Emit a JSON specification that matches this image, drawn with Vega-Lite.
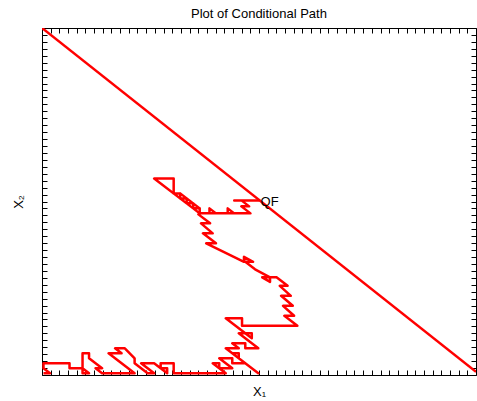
{
  "$schema": "https://vega.github.io/schema/vega-lite/v6.json",
  "width": 434,
  "height": 347,
  "autosize": {"type": "none"},
  "padding": {"left": 42, "top": 28, "right": 1, "bottom": 26},
  "background": "white",
  "config": {
    "view": {"stroke": null},
    "font": "Liberation Sans",
    "axis": {
      "domainColor": "black",
      "domainWidth": 1,
      "tickColor": "black",
      "tickWidth": 1,
      "tickSize": -5,
      "labels": false,
      "grid": false,
      "titleFont": "Liberation Sans",
      "titleFontSize": 13,
      "titleFontWeight": "normal",
      "titleColor": "black"
    }
  },
  "title": {
    "text": "Plot of Conditional Path",
    "fontSize": 13,
    "fontWeight": "normal",
    "font": "Liberation Sans",
    "color": "black",
    "offset": -3,
    "baseline": "alphabetic",
    "anchor": "middle"
  },
  "datasets": {
    "path": [
      {"k":1,"x":0.17,"y":0.25},{"k":2,"x":0.92,"y":0.25},{"k":3,"x":0.17,"y":0.97},{"k":4,"x":0.17,"y":1.69},
      {"k":5,"x":3.17,"y":1.69},{"k":6,"x":3.17,"y":0.97},{"k":7,"x":4.67,"y":0.97},{"k":8,"x":4.67,"y":0.25},
      {"k":9,"x":5.42,"y":0.25},{"k":10,"x":4.67,"y":0.97},{"k":11,"x":4.67,"y":3.13},{"k":12,"x":5.42,"y":3.13},
      {"k":13,"x":5.42,"y":2.41},{"k":14,"x":6.92,"y":0.97},{"k":15,"x":6.17,"y":0.97},{"k":16,"x":6.92,"y":0.25},
      {"k":17,"x":10.67,"y":0.25},{"k":18,"x":7.67,"y":3.13},{"k":19,"x":9.17,"y":3.13},{"k":20,"x":8.42,"y":3.85},
      {"k":21,"x":9.545,"y":3.85},{"k":22,"x":10.67,"y":2.41},{"k":23,"x":10.67,"y":1.69},{"k":24,"x":12.17,"y":0.25},
      {"k":25,"x":12.92,"y":0.25},{"k":26,"x":11.42,"y":1.69},{"k":27,"x":12.92,"y":1.69},{"k":28,"x":14.42,"y":0.25},
      {"k":29,"x":14.42,"y":0.97},{"k":30,"x":13.67,"y":0.97},{"k":31,"x":13.67,"y":1.69},{"k":32,"x":15.17,"y":1.69},
      {"k":33,"x":15.17,"y":0.25},{"k":34,"x":18.92,"y":0.25},{"k":35,"x":21.17,"y":0.25},{"k":36,"x":19.67,"y":1.69},
      {"k":37,"x":20.42,"y":1.69},{"k":38,"x":20.42,"y":0.97},{"k":39,"x":21.92,"y":0.97},{"k":40,"x":20.42,"y":2.41},
      {"k":41,"x":21.92,"y":2.41},{"k":42,"x":21.92,"y":1.69},{"k":43,"x":23.42,"y":1.69},{"k":44,"x":21.92,"y":3.13},
      {"k":45,"x":22.67,"y":3.13},{"k":46,"x":22.67,"y":2.41},{"k":47,"x":24.92,"y":0.25},{"k":48,"x":21.17,"y":3.85},
      {"k":49,"x":22.67,"y":3.85},{"k":50,"x":21.92,"y":4.57},{"k":51,"x":23.42,"y":4.57},{"k":52,"x":23.42,"y":3.85},
      {"k":53,"x":24.92,"y":3.85},{"k":54,"x":22.67,"y":6.01},{"k":55,"x":24.17,"y":6.01},{"k":56,"x":24.17,"y":5.29},
      {"k":57,"x":21.17,"y":8.17},{"k":58,"x":23.045,"y":8.17},{"k":59,"x":23.045,"y":7.09},{"k":60,"x":29.42,"y":7.09},
      {"k":61,"x":27.92,"y":8.53},{"k":62,"x":29.045,"y":8.53},{"k":63,"x":27.77,"y":9.97},{"k":64,"x":28.895,"y":9.97},
      {"k":65,"x":27.545,"y":11.41},{"k":66,"x":28.67,"y":11.41},{"k":67,"x":27.395,"y":12.85},{"k":68,"x":28.295,"y":12.85},
      {"k":69,"x":27.02,"y":14.074},{"k":70,"x":25.37,"y":14.074},{"k":71,"x":26.27,"y":13.426},{"k":72,"x":26.27,"y":14.074},
      {"k":73,"x":24.545,"y":15.226},{"k":74,"x":23.42,"y":16.306},{"k":75,"x":24.32,"y":16.306},{"k":76,"x":23.27,"y":17.026},
      {"k":77,"x":23.27,"y":16.306},{"k":78,"x":18.92,"y":18.97},{"k":79,"x":20.045,"y":18.97},{"k":80,"x":18.545,"y":20.41},
      {"k":81,"x":19.67,"y":20.41},{"k":82,"x":18.32,"y":21.85},{"k":83,"x":19.37,"y":21.85},{"k":84,"x":18.02,"y":23.146},
      {"k":85,"x":18.17,"y":23.29},{"k":86,"x":12.92,"y":28.33},{"k":87,"x":15.17,"y":28.33},{"k":88,"x":15.17,"y":26.17},
      {"k":89,"x":15.92,"y":26.17},{"k":90,"x":15.92,"y":25.45},{"k":91,"x":16.67,"y":25.45},{"k":92,"x":15.92,"y":26.17},
      {"k":93,"x":15.92,"y":25.45},{"k":94,"x":16.67,"y":25.45},{"k":95,"x":16.67,"y":24.73},{"k":96,"x":17.42,"y":24.73},
      {"k":97,"x":16.67,"y":25.45},{"k":98,"x":16.67,"y":24.73},{"k":99,"x":17.42,"y":24.73},{"k":100,"x":17.42,"y":24.01},
      {"k":101,"x":18.17,"y":24.01},{"k":102,"x":17.42,"y":24.73},{"k":103,"x":17.42,"y":24.01},{"k":104,"x":18.17,"y":24.01},
      {"k":105,"x":18.17,"y":23.29},{"k":106,"x":20.045,"y":23.29},{"k":107,"x":19.295,"y":24.01},{"k":108,"x":19.295,"y":23.29},
      {"k":109,"x":22.145,"y":23.29},{"k":110,"x":21.395,"y":24.01},{"k":111,"x":21.395,"y":23.29},{"k":112,"x":24.02,"y":23.29},
      {"k":113,"x":22.97,"y":24.298},{"k":114,"x":23.87,"y":24.298},{"k":115,"x":22.97,"y":25.162},{"k":116,"x":22.145,"y":25.162},
      {"k":117,"x":25.07,"y":25.162}
    ],
    "diag": [{"x": 0, "y": 50}, {"x": 50, "y": 0.45}],
    "qf": [{"x": 25.07, "y": 25.162, "label": "QF"}]
  },
  "layer": [
    {
      "data": {"name": "path"},
      "mark": {"type": "line", "color": "#ff0000", "strokeWidth": 2.5, "strokeJoin": "round", "clip": true},
      "encoding": {
        "x": {"field": "x", "type": "quantitative", "scale": {"domain": [0, 50], "nice": false, "zero": false},
              "axis": {"orient": "bottom", "title": "X₁", "titlePadding": 10,
                       "values": [0,1,2,3,4,5,6,7,8,9,10,11,12,13,14,15,16,17,18,19,20,21,22,23,24,25,26,27,28,29,30,31,32,33,34,35,36,37,38,39,40,41,42,43,44,45,46,47,48,49,50]}},
        "y": {"field": "y", "type": "quantitative", "scale": {"domain": [0, 50], "nice": false, "zero": false},
              "axis": {"orient": "left", "title": "X₂", "titlePadding": 16,
                       "values": [0,1,2,3,4,5,6,7,8,9,10,11,12,13,14,15,16,17,18,19,20,21,22,23,24,25,26,27,28,29,30,31,32,33,34,35,36,37,38,39,40,41,42,43,44,45,46,47,48,49,50]}},
        "order": {"field": "k", "type": "quantitative"}
      }
    },
    {
      "data": {"name": "diag"},
      "mark": {"type": "line", "color": "#ff0000", "strokeWidth": 2.5, "clip": true},
      "encoding": {
        "x": {"field": "x", "type": "quantitative", "scale": {"domain": [0, 50], "nice": false, "zero": false},
              "axis": {"orient": "top", "title": null,
                       "values": [0,1,2,3,4,5,6,7,8,9,10,11,12,13,14,15,16,17,18,19,20,21,22,23,24,25,26,27,28,29,30,31,32,33,34,35,36,37,38,39,40,41,42,43,44,45,46,47,48,49,50]}},
        "y": {"field": "y", "type": "quantitative", "scale": {"domain": [0, 50], "nice": false, "zero": false},
              "axis": {"orient": "right", "title": null,
                       "values": [0,1,2,3,4,5,6,7,8,9,10,11,12,13,14,15,16,17,18,19,20,21,22,23,24,25,26,27,28,29,30,31,32,33,34,35,36,37,38,39,40,41,42,43,44,45,46,47,48,49,50]}}
      }
    },
    {
      "data": {"name": "qf"},
      "mark": {"type": "text", "align": "left", "baseline": "middle", "dx": 1, "dy": 2, "fontSize": 13, "font": "Liberation Sans", "color": "black"},
      "encoding": {
        "x": {"field": "x", "type": "quantitative", "axis": null},
        "y": {"field": "y", "type": "quantitative", "axis": null},
        "text": {"field": "label"}
      }
    }
  ],
  "resolve": {"axis": {"x": "independent", "y": "independent"}}
}
